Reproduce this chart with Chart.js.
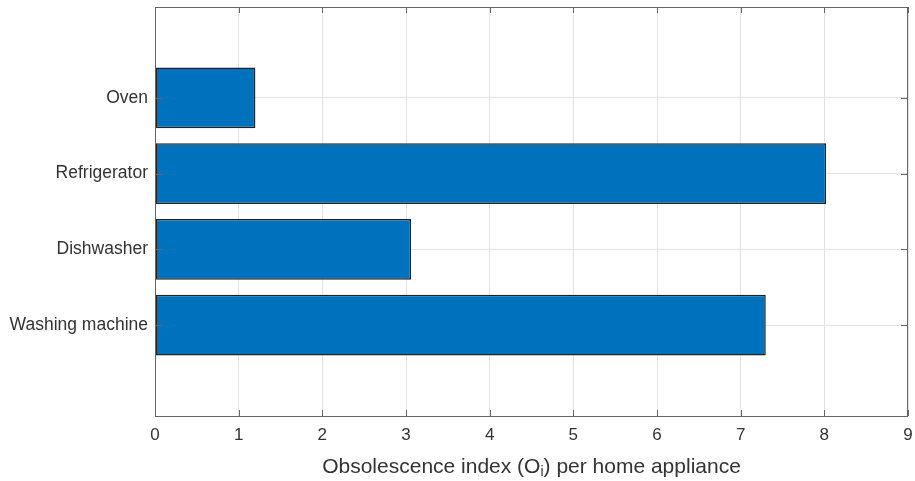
<!DOCTYPE html>
<html>
<head>
<meta charset="utf-8">
<script src="https://cdn.jsdelivr.net/npm/chart.js@4"></script>
<style>
  html, body { margin: 0; padding: 0; background: #fff; }
  #wrap { width: 915px; height: 481px; }
</style>
</head>
<body>
<div id="wrap"><canvas id="myChart" width="915" height="481"></canvas></div>
<script>
// appliances from bottom to top, and their obsolescence index
var appliances = ['Washing machine', 'Dishwasher', 'Refrigerator', 'Oven'];
var obsolescence = [7.30, 3.06, 8.02, 1.20];
var xTicks = [0, 1, 2, 3, 4, 5, 6, 7, 8, 9];

var FONT = "'Liberation Sans', Arial, Helvetica, sans-serif";
var textColor = '#333333';

var points = [];
for (var i = 0; i < appliances.length; i++) {
  points.push({ x: obsolescence[i], y: i + 1 });
}

// box around the axes with small inward ticks, plus the x title with subscript
var frame = {
  id: 'frame',
  afterDraw: function(chart) {
    var ctx = chart.ctx;
    var a = chart.chartArea;
    var xs = chart.scales.x;
    var ys = chart.scales.y;
    ctx.save();
    ctx.strokeStyle = '#666666';
    ctx.lineWidth = 1;
    ctx.strokeRect(Math.round(a.left) + 0.5, Math.round(a.top) + 0.5,
      Math.round(a.right - a.left) - 1, Math.round(a.bottom - a.top));
    ctx.beginPath();
    xTicks.forEach(function(v) {
      var px = Math.round(xs.getPixelForValue(v)) + 0.5;
      ctx.moveTo(px, a.bottom); ctx.lineTo(px, a.bottom - 6);
      ctx.moveTo(px, a.top); ctx.lineTo(px, a.top + 6);
    });
    for (var k = 1; k <= appliances.length; k++) {
      var py = Math.round(ys.getPixelForValue(k)) + 0.5;
      ctx.moveTo(a.left, py); ctx.lineTo(a.left + 7, py);
      ctx.moveTo(a.right, py); ctx.lineTo(a.right - 7, py);
    }
    ctx.stroke();

    // "Obsolescence index (Oi) per home appliance"
    var big = '21px ' + FONT, small = '14px ' + FONT;
    var p1 = 'Obsolescence index (O', p2 = 'i', p3 = ') per home appliance';
    ctx.font = big;
    var w1 = ctx.measureText(p1).width, w3 = ctx.measureText(p3).width;
    ctx.font = small;
    var w2 = ctx.measureText(p2).width;
    var total = w1 + w2 + w3;
    var x0 = (a.left + a.right) / 2 - total / 2;
    var yb = 473;
    ctx.fillStyle = textColor;
    ctx.textBaseline = 'alphabetic';
    ctx.textAlign = 'left';
    ctx.font = big;
    ctx.fillText(p1, x0, yb);
    ctx.font = small;
    ctx.fillText(p2, x0 + w1, yb + 3);
    ctx.font = big;
    ctx.fillText(p3, x0 + w1 + w2, yb);
    ctx.restore();
  }
};

new Chart(document.getElementById('myChart').getContext('2d'), {
  type: 'bar',
  data: {
    datasets: [{
      data: points,
      backgroundColor: '#0072BD',
      borderColor: '#222222',
      borderWidth: 1.5,
      borderSkipped: false,
      barPercentage: 0.8,
      categoryPercentage: 1.0
    }]
  },
  options: {
    indexAxis: 'y',
    responsive: false,
    animation: false,
    layout: { padding: { top: 7, right: 7, left: 0, bottom: 0 } },
    plugins: {
      legend: { display: false },
      tooltip: { enabled: false }
    },
    scales: {
      x: {
        type: 'linear',
        min: 0,
        max: 9,
        offset: false,
        afterBuildTicks: function(scale) {
          scale.ticks = xTicks.map(function(v) { return { value: v }; });
        },
        grid: { color: '#e3e3e3', drawTicks: false, offset: false },
        border: { display: false },
        ticks: {
          padding: 9,
          color: textColor,
          font: { family: FONT, size: 17 }
        },
        afterFit: function(scale) {
          scale.height = 65;
          scale.paddingLeft = 0;
          scale.paddingRight = 0;
        }
      },
      y: {
        type: 'linear',
        min: -0.2,
        max: 5.2,
        offset: false,
        afterBuildTicks: function(scale) {
          scale.ticks = appliances.map(function(n, i) { return { value: i + 1 }; });
        },
        grid: { color: '#e3e3e3', drawTicks: false, offset: false },
        border: { display: false },
        ticks: {
          padding: 7,
          color: textColor,
          font: { family: FONT, size: 17.5 },
          callback: function(v) { return appliances[v - 1]; }
        },
        afterFit: function(scale) {
          scale.width = 155;
          scale.paddingTop = 0;
          scale.paddingBottom = 0;
        }
      }
    }
  },
  plugins: [frame]
});
</script>
</body>
</html>
